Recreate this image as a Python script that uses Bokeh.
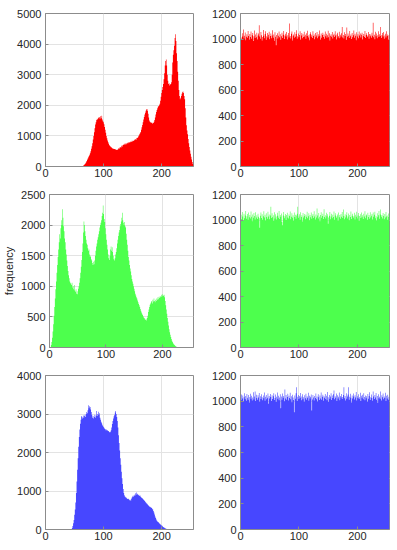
from bokeh.plotting import figure
from bokeh.layouts import column, row
from bokeh.models import Range1d, FixedTicker
from bokeh.embed import file_html
from bokeh.resources import INLINE

levels = list(range(256))

red_orig = [0] * 64 + [
    10, 25, 40, 60, 80, 110, 140, 180, 220, 260, 300, 340, 380, 430, 500, 580,
    660, 760, 880, 1000, 1120, 1250, 1370, 1450, 1520, 1560, 1540, 1600, 1580, 1620, 1560, 1640,
    1580, 1660, 1540, 1480, 1450, 1380, 1290, 1200, 1100, 1000, 920, 850, 790, 740, 700, 670,
    650, 630, 620, 600, 590, 580, 575, 570, 560, 555, 550, 540, 545, 560, 600, 580,
    620, 640, 610, 660, 700, 650, 720, 700, 740, 710, 750, 730, 760, 780, 750, 790,
    770, 800, 790, 820, 800, 840, 820, 850, 830, 860, 880, 900, 870, 920, 950, 930,
    980, 1010, 1050, 1090, 1130, 1200, 1280, 1360, 1450, 1540, 1620, 1700, 1760, 1820, 1860, 1880,
    1820, 1720, 1600, 1500, 1460, 1450, 1420, 1440, 1400, 1430, 1420, 1460, 1520, 1600, 1700, 1780,
    1850, 1900, 1950, 1980, 2000, 2050, 2150, 2280, 2400, 2500, 2600, 2700, 2850, 3050, 3300, 3450,
    3500, 3300, 3000, 2800, 2700, 2720, 2650, 2680, 2700, 2750, 3000, 3400, 3650, 3800, 3950, 4200,
    4320, 4100, 3700, 3450, 3100, 2800, 2500, 2300, 2200, 2250, 2300, 2380, 2430, 2450, 2400, 2300,
    2200, 1900, 1600, 1350, 1180, 1050, 900, 760, 640, 520, 420, 320, 230, 150, 80, 30,
]

green_orig = [
    0, 0, 10, 40, 90, 160, 260, 380, 520, 660, 800, 950, 1080, 1220, 1350, 1480,
    1600, 1720, 1850, 1780, 1950, 2080, 2000, 2260, 2120, 1980, 1900, 1780, 1720, 1600, 1520, 1420,
    1330, 1250, 1180, 1130, 1080, 1060, 1040, 1020, 1060, 980, 1000, 950, 1020, 930, 910, 950,
    880, 920, 870, 960, 1000, 1060, 1130, 1220, 1320, 1430, 1560, 1700, 1880, 2060, 2000, 1900,
    1820, 1760, 1700, 1680, 1620, 1580, 1600, 1520, 1480, 1500, 1440, 1420, 1380, 1350, 1400, 1360,
    1420, 1500, 1580, 1650, 1700, 1760, 1800, 1850, 1900, 1960, 2000, 2040, 2080, 2150, 2200, 2320,
    2180, 2100, 2050, 1950, 1850, 1760, 1680, 1600, 1520, 1460, 1430, 1500, 1600, 1650, 1580, 1640,
    1560, 1500, 1440, 1420, 1460, 1520, 1560, 1620, 1700, 1760, 1820, 1880, 1920, 1980, 2020, 2060,
    2120, 2200, 2080, 2040, 2000, 2050, 1980, 1960, 1860, 1760, 1680, 1580, 1480, 1420, 1350, 1290,
    1240, 1180, 1120, 1080, 1040, 1000, 960, 920, 880, 850, 820, 800, 770, 740, 710, 690,
    660, 630, 600, 570, 550, 530, 510, 490, 480, 460, 450, 470, 440, 480, 520, 580,
    620, 660, 700, 720, 740, 760, 720, 780, 750, 800, 760, 740, 780, 760, 800, 780,
    820, 790, 830, 810, 840, 820, 860, 830, 870, 840, 850, 860, 820, 760, 690, 620,
    550, 480, 420, 360, 300, 250, 210, 170, 140, 110, 90, 70, 55, 45, 35, 25,
    18, 12, 8, 5, 2,
] + [0] * 27

blue_orig = [0] * 45 + [
    10, 40, 90,
    160, 250, 380, 520, 700, 950, 1250, 1550, 1850, 2150, 2400, 2600, 2750, 2850, 2950, 2920,
    2880, 2960, 2900, 2950, 2980, 2920, 3000, 3050, 3020, 3100, 3230, 3150, 3200, 3180, 3120, 3050,
    2980, 2900, 2950, 2880, 2920, 2980, 2900, 2960, 3080, 2950, 3000, 3060, 2980, 3020, 2900, 2850,
    2800, 2760, 2720, 2690, 2660, 2640, 2620, 2610, 2580, 2600, 2570, 2580, 2550, 2560, 2530, 2520,
    2540, 2580, 2650, 2740, 2820, 2880, 2940, 2980, 3040, 3080, 3000, 2920, 2820, 2650, 2450, 2250,
    2050, 1850, 1680, 1500, 1330, 1180, 1050, 950, 890, 860, 840, 830, 810, 800, 790, 800,
    780, 760, 770, 750, 800, 830, 860, 880, 850, 900, 870, 940, 900, 960, 910, 930,
    890, 900, 870, 880, 850, 840, 820, 810, 790, 770, 760, 740, 720, 700, 680, 670,
    650, 630, 620, 600, 590, 580, 570, 560, 540, 520, 480, 440, 390, 340, 300, 260,
    230, 210, 195, 180, 165, 150, 135, 120, 105, 95, 80, 65, 55, 45, 35, 28,
    22, 16, 12, 8, 5, 3, 1,
] + [0] * 41

red_enc = [
    1031, 1012, 998, 1045, 1020, 1074, 1003, 1026, 1051, 990, 1018, 1037, 1009, 1062, 1024, 995,
    1040, 1015, 1058, 1001, 1029, 1047, 985, 1021, 1066, 1008, 1035, 1013, 1049, 997, 1027, 1043,
    1108, 1019, 1002, 1054, 1030, 988, 1016, 1071, 1025, 1006, 1039, 1061, 993, 1022, 1048, 1011,
    1034, 1057, 999, 1023, 1044, 1005, 1028, 1068, 1010, 1036, 987, 1052, 1017, 951, 1032, 1046,
    1004, 1025, 1059, 1014, 1038, 992, 1021, 1050, 1007, 1033, 1063, 1000, 1027, 1041, 1019, 1055,
    996, 1030, 1047, 1012, 1121, 1024, 1003, 1042, 1058, 989, 1026, 1035, 1009, 1053, 1018, 1039,
    1069, 1001, 1022, 1044, 1013, 1031, 1060, 994, 1027, 1048, 1006, 1037, 1015, 1056, 1020, 1034,
    1002, 1045, 1024, 1065, 1011, 1029, 991, 1040, 1052, 1017, 1033, 1008, 1061, 1023, 1036, 999,
    1047, 1014, 1028, 1055, 1005, 1038, 1019, 1067, 1026, 995, 1043, 1010, 1032, 1050, 1016, 1035,
    1001, 1058, 1022, 1041, 1009, 1030, 1064, 1013, 1046, 988, 1025, 1037, 1018, 1054, 1004, 1029,
    1042, 1015, 1060, 1027, 997, 1036, 1049, 1011, 1023, 1057, 1006, 1034, 1020, 1045, 1095, 1012,
    1031, 1003, 1052, 1024, 1039, 993, 1090, 1017, 1044, 1026, 1008, 1062, 1021, 1035, 1000, 1048,
    1014, 1030, 1066, 1009, 1041, 1025, 990, 1053, 1019, 1037, 1005, 1059, 1028, 1043, 1012, 1033,
    1050, 996, 1024, 1039, 1016, 1063, 1007, 1031, 1046, 1018, 1027, 1055, 1002, 1040, 1021, 1036,
    1010, 1049, 1026, 1127, 1013, 1034, 998, 1057, 1022, 1044, 1005, 1030, 1061, 1015, 1038, 1024,
    1095, 1008, 1032, 1047, 1019, 1054, 1001, 1027, 1042, 1011, 1060, 1023, 1036, 994, 1029, 1045,
]

green_enc = [
    1018, 1042, 1005, 1063, 1027, 996, 1050, 1014, 1036, 1071, 1009, 1029, 1047, 1001, 1058, 1022,
    1039, 1011, 1066, 1025, 990, 1044, 1017, 1055, 1031, 1004, 1061, 1020, 1037, 1008, 1049, 1026,
    1013, 940, 1034, 1059, 1015, 1046, 1002, 1030, 1068, 1019, 1041, 997, 1053, 1024, 1010, 1064,
    1028, 1043, 1006, 1035, 1103, 1016, 1052, 1021, 1038, 993, 1060, 1012, 1045, 1027, 1003, 1056,
    1033, 1018, 1070, 1007, 1040, 1025, 1051, 985, 958, 1036, 1062, 1014, 1029, 1048, 1000, 1039,
    1057, 1020, 1011, 1044, 1031, 1066, 1005, 1026, 1053, 1017, 1038, 994, 1059, 1023, 1042, 1009,
    1035, 1050, 1103, 1015, 1028, 1046, 1002, 1061, 1024, 1037, 989, 1055, 1019, 1032, 1048, 1006,
    1041, 1026, 1064, 1013, 1030, 1052, 998, 1039, 1021, 1058, 1010, 1034, 1047, 1016, 1069, 1027,
    1004, 1043, 1020, 1090, 1036, 1012, 1054, 1025, 991, 1040, 1061, 1018, 1031, 1049, 1007, 1085,
    1023, 1038, 1011, 1056, 1029, 1045, 971, 1019, 1033, 1062, 1006, 1027, 1050, 1014, 1041, 1024,
    1066, 1001, 1035, 1053, 1017, 1030, 1044, 995, 1058, 1021, 1039, 1010, 1048, 1026, 1063, 1015,
    1082, 1032, 1005, 1046, 1020, 1037, 1060, 1012, 1028, 1051, 999, 1040, 1023, 1067, 1008, 1034,
    1049, 1018, 1029, 1057, 1003, 1042, 1025, 1064, 1011, 1036, 1054, 992, 1031, 1045, 1016, 1059,
    1022, 1038, 1007, 1050, 1027, 1068, 1013, 1035, 1043, 1001, 1056, 1024, 1039, 1010, 1061, 1019,
    1033, 1047, 1004, 1058, 1026, 1041, 1065, 1014, 1030, 997, 1052, 1021, 1037, 1070, 1009, 1044,
    1082, 1025, 1040, 1012, 1055, 1031, 1006, 1048, 1019, 1063, 1027, 1036, 1002, 1051, 1023, 1042,
]

blue_enc = [
    1036, 1009, 1052, 1021, 1044, 997, 1030, 1061, 1015, 1040, 1003, 1055, 1026, 1012, 1048, 990,
    1033, 1058, 1019, 1042, 1006, 1029, 1070, 1013, 1037, 1075, 1001, 1050, 1024, 1011, 1046, 1028,
    1064, 995, 1038, 1017, 1053, 1031, 1008, 1045, 1022, 1067, 1004, 1035, 1049, 1014, 1027, 1059,
    980, 1041, 1020, 1056, 1032, 1002, 1047, 1016, 1039, 1062, 1010, 1025, 1051, 993, 1034, 1068,
    1018, 1043, 1007, 1029, 1054, 945, 1037, 1012, 1060, 1026, 1040, 999, 1090, 1021, 1048, 1011,
    1033, 1057, 1005, 1042, 1024, 1066, 1015, 1038, 991, 1050, 1028, 1009, 914, 1045, 1019, 1061,
    1109, 1002, 1034, 1049, 1017, 1040, 1026, 1063, 1008, 1036, 1053, 1014, 1031, 996, 1046, 1022,
    1058, 1011, 1039, 1027, 1065, 1004, 1043, 1020, 1035, 1052, 927, 1013, 1048, 1029, 1006, 1041,
    1024, 1060, 1015, 1037, 998, 1054, 1030, 1009, 1045, 1021, 1067, 1012, 1034, 1050, 1003, 1039,
    1026, 1056, 1017, 1042, 1008, 1071, 1031, 994, 1048, 1019, 1036, 1062, 1010, 1044, 1025, 1053,
    1083, 1014, 1038, 1027, 1059, 1001, 1046, 1020, 1035, 1068, 1007, 1041, 1029, 1055, 1016, 1032,
    1049, 1109, 1023, 1040, 1005, 1062, 1018, 1037, 1052, 1109, 1011, 1034, 1057, 1026, 989, 1044,
    1021, 1060, 1036, 1013, 1047, 1028, 1072, 1006, 1039, 1024, 1054, 1017, 1031, 1065, 1002, 1043,
    1027, 1050, 1014, 1061, 1033, 1008, 1045, 1022, 1038, 995, 1056, 1019, 1041, 1069, 1010, 1030,
    1052, 1025, 1003, 1075, 1036, 1016, 1048, 1029, 1063, 1011, 1040, 987, 1054, 1022, 1034, 1018,
    1075, 1006, 1046, 1031, 1059, 1015, 1037, 1024, 1066, 1001, 1043, 1020, 1050, 1012, 1035, 1028,
]

x_ticks = [0, 100, 200]
red_orig_ticks = [0, 1000, 2000, 3000, 4000, 5000]
green_orig_ticks = [0, 500, 1000, 1500, 2000, 2500]
blue_orig_ticks = [0, 1000, 2000, 3000, 4000]
enc_ticks = [0, 200, 400, 600, 800, 1000, 1200]
y_label = "frequency"

RED = "#ff0000"
GREEN = "#4dff4d"
BLUE = "#4747ff"
FONT = "Liberation Sans"
AX = "#8c8c8c"
TXT = "#262626"


def make(vals, color, yticks, width, left, right, height, top, bottom):
    p = figure(width=width, height=height, output_backend="svg", toolbar_location=None,
               x_range=Range1d(0, 255), y_range=Range1d(0, yticks[-1]),
               min_border_left=left, min_border_right=right,
               min_border_top=top, min_border_bottom=bottom)
    try:
        p.varea_step(x=levels, y1=[0] * len(levels), y2=vals, step_mode="center",
                     fill_color=color)
    except AttributeError:
        p.vbar(x=levels, top=vals, width=1.0, fill_color=color, line_color=None)
    p.xaxis.ticker = FixedTicker(ticks=x_ticks)
    p.yaxis.ticker = FixedTicker(ticks=yticks)
    p.xgrid.ticker = FixedTicker(ticks=x_ticks)
    p.ygrid.ticker = FixedTicker(ticks=yticks)
    p.grid.grid_line_color = "#e3e3e3"
    p.grid.grid_line_width = 1
    for ax in (p.xaxis, p.yaxis):
        ax.major_tick_in = 3
        ax.major_tick_out = 0
        ax.minor_tick_line_color = None
        ax.axis_line_color = AX
        ax.major_tick_line_color = AX
        ax.major_label_text_font = FONT
        ax.major_label_text_font_size = "11px"
        ax.major_label_text_color = TXT
    p.xaxis.major_label_standoff = 2
    p.yaxis.major_label_standoff = 4
    p.outline_line_color = AX
    p.outline_line_width = 1
    p.background_fill_color = "white"
    p.border_fill_color = "white"
    return p


LW, LL, LR = 200, 45, 7
RW, RL, RR = 190, 40, 1

p1 = make(red_orig, RED, red_orig_ticks, LW, LL, LR, 182, 13, 16)
p2 = make(red_enc, RED, enc_ticks, RW, RL, RR, 182, 13, 16)
p3 = make(green_orig, GREEN, green_orig_ticks, LW, LL, LR, 181, 12, 16)
p4 = make(green_enc, GREEN, enc_ticks, RW, RL, RR, 181, 12, 16)
p5 = make(blue_orig, BLUE, blue_orig_ticks, LW, LL, LR, 186, 12, 20)
p6 = make(blue_enc, BLUE, enc_ticks, RW, RL, RR, 186, 12, 20)

p3.yaxis.axis_label = y_label
p3.yaxis.axis_label_standoff = 3
p3.yaxis.axis_label_text_font = FONT
p3.yaxis.axis_label_text_font_size = "11px"
p3.yaxis.axis_label_text_font_style = "normal"
p3.yaxis.axis_label_text_color = TXT

layout = column(row(p1, p2), row(p3, p4), row(p5, p6))

with open("out.html", "w") as f:
    f.write(file_html(layout, INLINE))
